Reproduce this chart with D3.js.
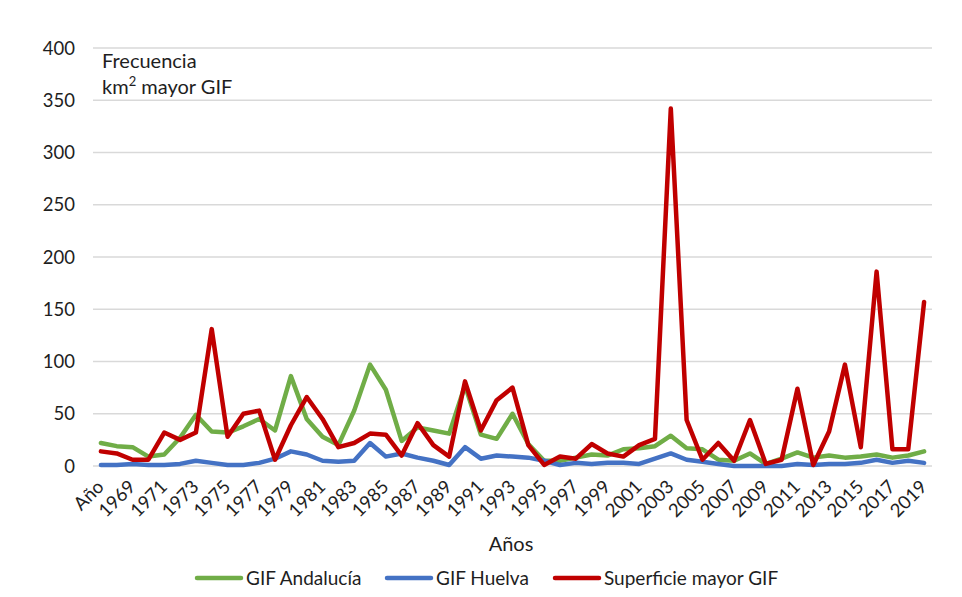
<!DOCTYPE html>
<html>
<head>
<meta charset="utf-8">
<script src="https://cdn.jsdelivr.net/npm/d3@7/dist/d3.min.js"></script>
<style>
  html, body { margin: 0; padding: 0; background: #fff; }
  svg { display: block; }
  text { font-family: Lato, "Open Sans", sans-serif; fill: #1e1e1e; }
</style>
</head>
<body>
<svg id="chart" width="962" height="597"></svg>
<script>
const categories = ["Año","1968","1969","1970","1971","1972","1973","1974","1975","1976","1977","1978","1979","1980","1981","1982","1983","1984","1985","1986","1987","1988","1989","1990","1991","1992","1993","1994","1995","1996","1997","1998","1999","2000","2001","2002","2003","2004","2005","2006","2007","2008","2009","2010","2011","2012","2013","2014","2015","2016","2017","2018","2019"];
const gifAndalucia = [22,19,18,9,11,27,49,33,32,38,45,34,86,45,28,20,53,97,73,24,37,34,31,77,30,26,50,21,5,5,8,11,10,16,17,19,29,17,16,6,5,12,2,7,13,8,10,8,9,11,8,10,14];
const gifHuelva = [1,1,2,1,1,2,5,3,1,1,3,7,14,11,5,4,5,22,9,12,8,5,1,18,7,10,9,8,5,1,3,2,3,3,2,7,12,6,4,2,0,0,0,0,2,1,2,2,3,6,3,5,3];
const superficie = [14,12,6,6,32,25,32,131,28,50,53,6,39,66,45,18,22,31,30,10,41,20,9,81,34,63,75,20,1,9,7,21,12,9,20,26,342,44,6,22,5,44,2,6,74,1,33,97,18,186,16,16,157];
const yTicks = [0,50,100,150,200,250,300,350,400];
const seriesNames = ["GIF Andalucía","GIF Huelva","Superficie mayor GIF"];
const seriesColors = ["#70ad47","#4472c4","#c00000"];

(function () {
const svg = d3.select("#chart");
const mLeft = 93, mRight = 932, mTop = 48, mBottom = 466;

const x = d3.scaleBand().domain(categories).range([mLeft, mRight]);
const y = d3.scaleLinear().domain([0, 400]).range([mBottom, mTop]);

// gridlines
svg.append("g").selectAll("line").data(yTicks).join("line")
  .attr("x1", mLeft).attr("x2", mRight)
  .attr("y1", d => y(d)).attr("y2", d => y(d))
  .attr("stroke", "#d9d9d9").attr("stroke-width", 1.5);

// y tick labels
svg.append("g").selectAll("text").data(yTicks).join("text")
  .attr("x", 75).attr("y", d => y(d) + 6.5)
  .attr("text-anchor", "end")
  .style("font-size", "18.5px")
  .text(d => d);

// x tick labels (every other category)
svg.append("g").selectAll("text")
  .data(categories.filter((c, i) => i % 2 === 0))
  .join("text")
  .attr("transform", d => `translate(${x(d) + x.bandwidth() / 2 + 4},${488}) rotate(-45)`)
  .attr("text-anchor", "end")
  .style("font-size", "18.5px")
  .text(d => d);

// lines
const allSeries = [gifAndalucia, gifHuelva, superficie];
const line = d3.line()
  .x((d, i) => x(categories[i]) + x.bandwidth() / 2)
  .y(d => y(d));
allSeries.forEach((s, k) => {
  svg.append("path").datum(s)
    .attr("d", line)
    .attr("fill", "none")
    .attr("stroke", seriesColors[k])
    .attr("stroke-width", 4.5)
    .attr("stroke-linejoin", "round")
    .attr("stroke-linecap", "round");
});

// annotation
svg.append("text").attr("x", 102).attr("y", 68).style("font-size", "20px").text("Frecuencia");
const t2 = svg.append("text").attr("x", 102).attr("y", 94).style("font-size", "20px");
t2.append("tspan").text("km");
t2.append("tspan").attr("dy", -8).style("font-size", "13px").text("2");
t2.append("tspan").attr("dy", 8).text(" mayor GIF");

// axis title
svg.append("text").attr("x", 511).attr("y", 551).attr("text-anchor", "middle")
  .style("font-size", "20px").text("Años");

// legend
const legendX = [197, 387, 555];
seriesNames.forEach((n, k) => {
  const g = svg.append("g");
  g.append("line").attr("x1", legendX[k]).attr("x2", legendX[k] + 44)
    .attr("y1", 578).attr("y2", 578)
    .attr("stroke", seriesColors[k]).attr("stroke-width", 4.5).attr("stroke-linecap", "round");
  g.append("text").attr("x", legendX[k] + 49).attr("y", 584.5)
    .style("font-size", "19px").text(n);
});
})();
</script>
</body>
</html>
